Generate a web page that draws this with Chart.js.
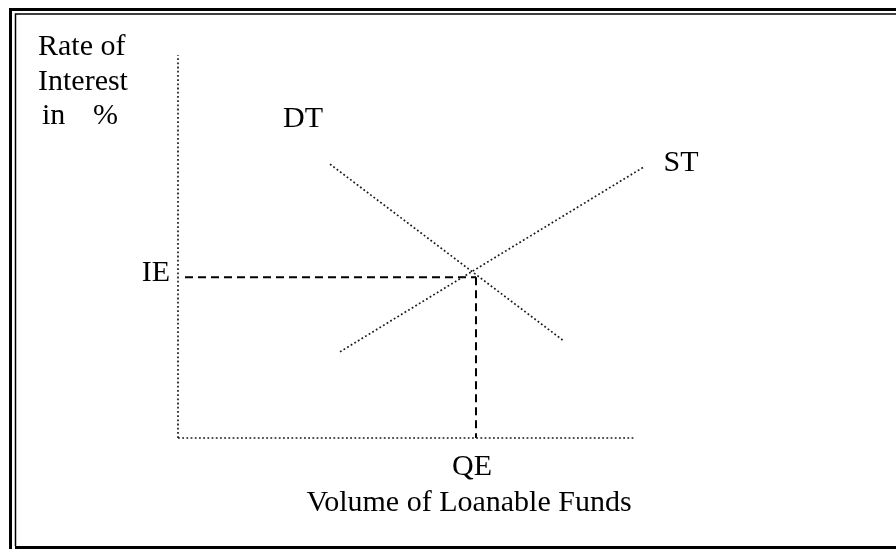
<!DOCTYPE html>
<html>
<head>
<meta charset="utf-8">
<script src="https://cdn.jsdelivr.net/npm/chart.js@4"></script>
<style>
html,body{margin:0;padding:0;background:#fff;}
#wrap{position:relative;width:896px;height:549px;}
</style>
</head>
<body>
<div id="wrap"><canvas id="c" width="896" height="549"></canvas></div>
<script>
// ---- data ----
const yAxisTitle = ['Rate of', 'Interest', 'in', '%'];
const xAxisTitle = 'Volume of Loanable Funds';
const demandLabel = 'DT';
const supplyLabel = 'ST';
const rateLabel = 'IE';
const qtyLabel = 'QE';

const yAxisX = [0, 0];
const yAxisY = [0, 100];
const xAxisX = [0, 91.4];
const xAxisY = [0, 0];

const demandX = [30.4, 77.2];
const demandY = [71.5, 25.3];
const supplyX = [32.4, 93.2];
const supplyY = [22.5, 70.8];

const eqRate = 42.0;
const eqQty = 59.6;
const guideStartX = 1.4;

const pts = (xs, ys) => xs.map((x, i) => ({x, y: ys[i]}));

const dotted = {borderColor: '#1a1a1a', borderWidth: 1.7, borderDash: [1.8, 2.4], pointRadius: 0, showLine: true, borderCapStyle: 'butt', fill: false, clip: false};
const dashed = {borderColor: '#000', borderWidth: 2, borderDash: [8, 5], pointRadius: 0, showLine: true, borderCapStyle: 'butt', fill: false, clip: false};

const datasets = [
  Object.assign({label: 'yaxis', data: pts(yAxisX, yAxisY)}, dotted),
  Object.assign({label: 'xaxis', data: pts(xAxisX, xAxisY)}, dotted),
  Object.assign({label: demandLabel, data: pts(demandX, demandY)}, dotted),
  Object.assign({label: supplyLabel, data: pts(supplyX, supplyY)}, dotted),
  Object.assign({label: 'rate', data: [{x: guideStartX, y: eqRate}, {x: eqQty, y: eqRate}]}, dashed),
  Object.assign({label: 'qty', data: [{x: eqQty, y: eqRate}, {x: eqQty, y: 0}]}, dashed)
];

const frame = {
  id: 'frame',
  beforeDraw(chart) {
    const ctx = chart.ctx;
    ctx.save();
    ctx.fillStyle = '#fff';
    ctx.fillRect(0, 0, chart.width, chart.height);
    ctx.strokeStyle = '#000';
    ctx.lineWidth = 3;
    ctx.beginPath();
    ctx.moveTo(10.5, 560); ctx.lineTo(10.5, 9.5); ctx.lineTo(900, 9.5);
    ctx.stroke();
    ctx.lineWidth = 1.5;
    ctx.beginPath();
    ctx.moveTo(15.5, 546); ctx.lineTo(15.5, 14); ctx.lineTo(900, 14);
    ctx.stroke();
    ctx.lineWidth = 3;
    ctx.beginPath();
    ctx.moveTo(15, 547.5); ctx.lineTo(900, 547.5);
    ctx.stroke();
    ctx.restore();
  }
};

const labels = {
  id: 'labels',
  afterDraw(chart) {
    const ctx = chart.ctx;
    const xs = chart.scales.x, ys = chart.scales.y;
    ctx.save();
    ctx.fillStyle = '#000';
    ctx.font = '30px "Liberation Serif", "Times New Roman", serif';
    ctx.textBaseline = 'alphabetic';
    ctx.textAlign = 'left';
    ctx.fillText(yAxisTitle[0], 38, 55);
    ctx.fillText(yAxisTitle[1], 38, 90);
    ctx.fillText(yAxisTitle[2], 42, 124);
    ctx.fillText(yAxisTitle[3], 93, 124);
    // curve labels
    ctx.textAlign = 'center';
    ctx.fillText(demandLabel, xs.getPixelForValue(demandX[0]) - 27, ys.getPixelForValue(demandY[0]) - 37);
    ctx.fillText(supplyLabel, xs.getPixelForValue(supplyX[1]) + 37, ys.getPixelForValue(supplyY[1]) + 4);
    // equilibrium labels
    ctx.textAlign = 'right';
    ctx.fillText(rateLabel, 170, ys.getPixelForValue(eqRate) + 4);
    ctx.textAlign = 'center';
    ctx.fillText(qtyLabel, xs.getPixelForValue(eqQty) - 4, 475);
    ctx.fillText(xAxisTitle, 469, 511);
    ctx.restore();
  }
};

new Chart(document.getElementById('c'), {
  type: 'scatter',
  data: {datasets},
  options: {
    responsive: false,
    animation: false,
    layout: {padding: {left: 178, right: 896 - 678, top: 55, bottom: 549 - 438}},
    scales: {
      x: {type: 'linear', min: 0, max: 100, display: false},
      y: {type: 'linear', min: 0, max: 100, display: false}
    },
    plugins: {legend: {display: false}, tooltip: {enabled: false}},
    elements: {line: {tension: 0}}
  },
  plugins: [frame, labels]
});
</script>
</body>
</html>
